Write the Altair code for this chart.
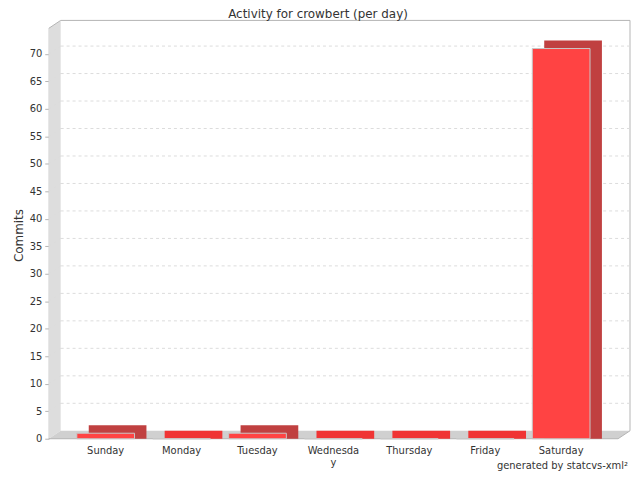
import altair as alt
import pandas as pd

days = ["Sunday", "Monday", "Tuesday", "Wednesday", "Thursday", "Friday", "Saturday"]
commits = [1, 0, 1, 0, 0, 0, 71]
tick_values = [5, 10, 15, 20, 25, 30, 35, 40, 45, 50, 55, 60, 65, 70]

W, H = 573, 413
DX, DY = 12, 8
YMAX = 74.67
FONT = "DejaVu Sans"

bars = pd.DataFrame({"day": days, "commits": commits, "zero": [0] * len(days)})
grid = pd.DataFrame({"v": tick_values})

xs = alt.Scale(domain=days, paddingInner=0.24, paddingOuter=0.37)
ys = alt.Scale(domain=[0, YMAX], nice=False, zero=True)

x_axis = alt.Axis(domain=False, ticks=False, labelAngle=0, labelPadding=7,
                  labelFont=FONT, labelFontSize=10, labelColor="#333333",
                  labelLineHeight=12, title=None,
                  labelExpr="datum.value == 'Wednesday' ? ['Wednesda', 'y'] : datum.value")
y_axis = alt.Axis(values=[0] + tick_values, grid=False, domainColor="#b4b4b4",
                  tickColor="#b4b4b4", tickSize=4, labelPadding=3,
                  labelFont=FONT, labelFontSize=10, labelColor="#333333",
                  title="Commits",
                  titleFont=FONT, titleFontSize=12, titleFontWeight="normal",
                  titleColor="#333333", titleX=-30, titleY=208, titleAngle=-90,
                  titleAlign="center", titleBaseline="middle")

# decorative 3D walls (pixel space)
left_wall = pd.DataFrame({"px": [0, DX], "top": [0, -DY], "bot": [H, H - DY]})
floor = pd.DataFrame({"px": [0, DX, W, W + DX], "top": [H, H - DY, H - DY, H - DY], "bot": [H, H, H, H - DY]})
outline = pd.DataFrame({
    "x1": [DX, W + DX, 0, W, 0],
    "x2": [W + DX, W + DX, DX, W + DX, W],
    "y1": [-DY, -DY, 0, H, H],
    "y2": [-DY, H - DY, -DY, H - DY, H],
})

wall_l = alt.Chart(left_wall).mark_area(color="#dddddd").encode(
    x=alt.X("px:Q", scale=None), y=alt.Y("top:Q", scale=None), y2="bot:Q")
wall_f = alt.Chart(floor).mark_area(color="#d0d0d0").encode(
    x=alt.X("px:Q", scale=None), y=alt.Y("top:Q", scale=None), y2="bot:Q")
lines = alt.Chart(outline).mark_rule(color="#b4b4b4", strokeWidth=1).encode(
    x=alt.X("x1:Q", scale=None), x2="x2:Q", y=alt.Y("y1:Q", scale=None), y2="y2:Q")
decor = alt.layer(wall_l, wall_f, lines)

gridlines = alt.Chart(grid).mark_rule(color="#dcdcdc", strokeDash=[3, 3], yOffset=-DY).encode(
    y=alt.Y("v:Q", scale=ys, axis=y_axis), x=alt.value(DX), x2=alt.value(W + DX))
connectors = alt.Chart(grid).mark_rule(color="#dcdcdc", strokeDash=[3, 3], y2Offset=-DY).encode(
    y=alt.Y("v:Q", scale=ys, axis=y_axis), y2="v:Q", x=alt.value(0), x2=alt.value(DX))

back = alt.Chart(bars).mark_rect(xOffset=DX, yOffset=-DY, y2Offset=0).encode(
    x=alt.X("day:N", scale=xs, sort=days, axis=x_axis),
    y=alt.Y("commits:Q", scale=ys, axis=y_axis),
    y2="zero:Q",
    color=alt.condition(alt.datum.commits == 0, alt.value("#f03535"), alt.value("#c04040")),
)

front = alt.Chart(bars).mark_bar(color="#ff4343", stroke="#c8c8c8", strokeWidth=1).encode(
    x=alt.X("day:N", scale=xs, sort=days, axis=x_axis),
    y=alt.Y("commits:Q", scale=ys, axis=y_axis),
)

texts = pd.DataFrame({"t": ["Activity for crowbert (per day)"]})
title = alt.Chart(texts).mark_text(font=FONT, fontSize=12, color="#333333",
                                   baseline="middle", align="center").encode(
    text="t:N", x=alt.value(271), y=alt.value(-14))
foot = pd.DataFrame({"t": ["generated by statcvs-xml²"]})
footer = alt.Chart(foot).mark_text(font=FONT, fontSize=10, color="#333333",
                                   baseline="middle", align="right").encode(
    text="t:N", x=alt.value(583), y=alt.value(440))

main = alt.layer(gridlines, connectors, back, front, title, footer)

chart = alt.layer(decor, main).resolve_scale(x="independent", y="independent").properties(
    width=W, height=H,
    autosize=alt.AutoSizeParams(type="none"),
    padding={"left": 41, "top": 19, "right": 14, "bottom": 32},
).configure_view(stroke=None)

chart.save("out.html", embed_options={"renderer": "svg", "actions": False})
